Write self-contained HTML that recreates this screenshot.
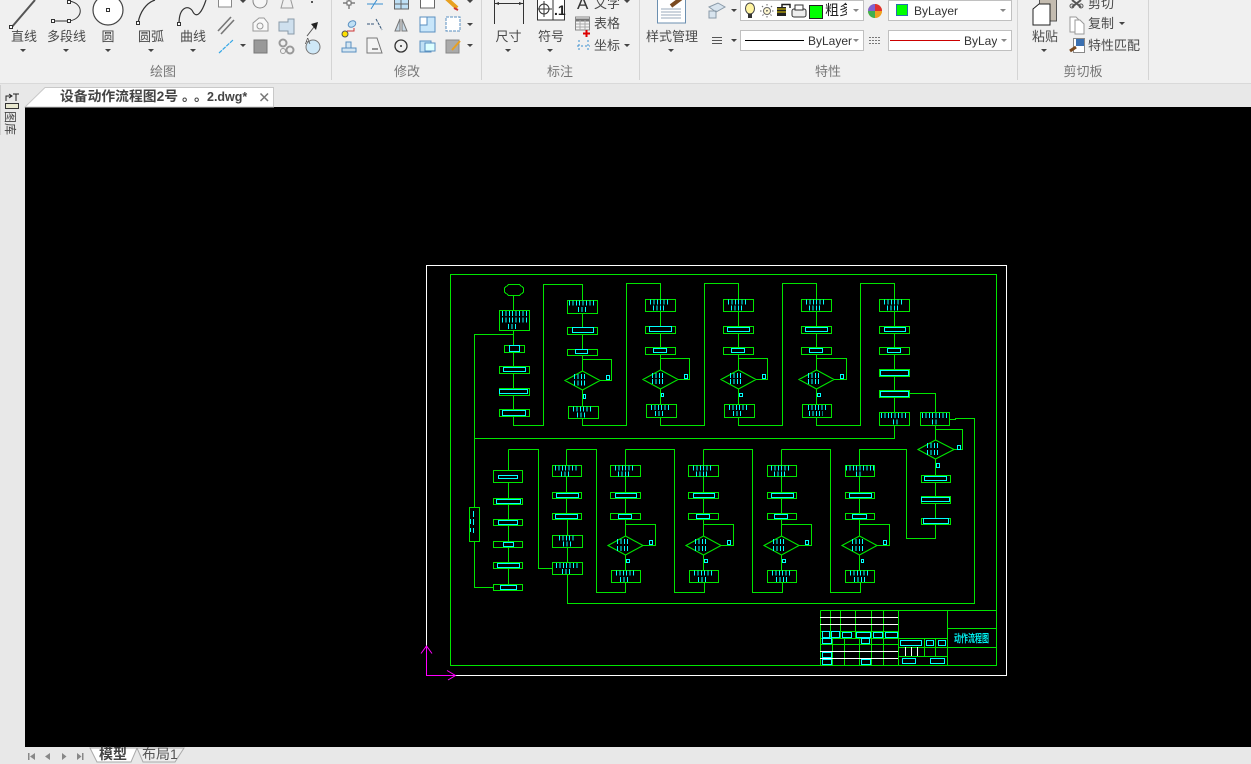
<!DOCTYPE html>
<html lang="zh"><head><meta charset="utf-8"><title>设备动作流程图</title>
<style>
html,body{margin:0;padding:0;width:1251px;height:764px;overflow:hidden;background:#f0f0f0}
svg{display:block;position:absolute;left:0;top:0}
text{font-family:"Liberation Sans","Noto Sans CJK SC",sans-serif;font-size:13px;fill:#4a4a4a}
.s{fill:#777;text-anchor:middle}.m{text-anchor:middle}
</style></head><body>
<svg width="1251" height="764" viewBox="0 0 1251 764" xmlns="http://www.w3.org/2000/svg">
<!-- backgrounds -->
<rect width="1251" height="764" fill="#f0f0f0"/>
<rect x="0" y="84" width="1251" height="23" fill="#e8e8e8"/>
<rect x="0" y="83" width="1251" height="1" fill="#d9d9d9"/>
<rect x="0" y="107" width="25" height="657" fill="#e8e8e8"/>
<rect x="0" y="747" width="1251" height="17" fill="#e8e8e8"/>
<rect x="25" y="107" width="1226" height="640" fill="#000"/>
<!-- separators -->
<path d="M331.5 0V80M481.5 0V80M639.5 0V80M1017.5 0V80M1148.5 0V80" stroke="#d4d4d4" fill="none"/>
<!-- draw big icons -->
<path d="M11 28L35 0" stroke="#555" stroke-width="2"/>
<path d="M52 21H69M69 1C84 3 84 19 69 21" stroke="#333" fill="none"/>
<circle cx="108" cy="10" r="15" fill="#fff" stroke="#444" stroke-width="1.2"/>
<path d="M138 23C140 12 146 3 155 0" stroke="#333" fill="none" stroke-width="1.2"/>
<path d="M179 24C179 5 190 5 193 12C197 19 202 12 206 0" stroke="#333" fill="none" stroke-width="1.2"/>
<g fill="#fff" stroke="#333"><rect x="9.500" y="25.500" width="3" height="3"/><rect x="51.500" y="19.500" width="3" height="3"/><rect x="67.500" y="19.500" width="3" height="3"/><rect x="67.500" y="0.500" width="3" height="3"/><rect x="106.500" y="8.500" width="3" height="3"/><rect x="136.500" y="21.500" width="3" height="3"/><rect x="177.500" y="22.500" width="3" height="3"/></g>
<!-- small draw icons -->
<rect x="218.500" y="-4" width="13" height="11" fill="#fff" stroke="#888"/>
<ellipse cx="260" cy="1" rx="7" ry="7" fill="#f6f6f6" stroke="#888"/>
<path d="M281 8L284 -3H290L293 8Z" fill="none" stroke="#999"/>
<rect x="311" y="1" width="2" height="2" fill="#555"/>
<path d="M218 35L231 21M221 38L234 24" stroke="#777" stroke-width="1.6" transform="translate(0,-4)"/>
<path d="M253 23L259 18H264L268 23V31H253Z" fill="#f8f8f8" stroke="#999"/><circle cx="260" cy="26" r="3" fill="none" stroke="#999"/>
<path d="M279 22H288V19H294V34H288V31H279Z" fill="#cfe0ee" stroke="#8a9aa8"/>
<path d="M307 36L314 27" stroke="#555"/><path d="M311 24L318 22L316 30Z" fill="#222"/>
<path d="M219 53L233 40" stroke="#35a7e6" stroke-width="1.2" stroke-dasharray="4 1"/>
<rect x="254" y="40" width="13" height="13" fill="#999" stroke="#777"/>
<circle cx="283" cy="43" r="3.500" fill="none" stroke="#999" stroke-width="2"/><circle cx="290" cy="50" r="3.500" fill="none" stroke="#999" stroke-width="2"/><circle cx="283" cy="51" r="2.500" fill="none" stroke="#999"/>
<circle cx="313" cy="47" r="7" fill="#cfe8f7" stroke="#777"/><text x="305" y="44" style="font-size:8px">A</text>
<!-- modify icons -->
<g stroke="#666" fill="none">
<path d="M349 -3V9M343 3H355" stroke-width="1.2"/><rect x="347" y="1" width="4" height="4" fill="#fff"/>
<path d="M367 4H383M378 -2L371 9" stroke="#3a8fd0"/>
<rect x="394.500" y="-2" width="14" height="11" fill="#bfe0f5"/><path d="M394 4H408M401 -2V9"/>
<rect x="420.500" y="-2" width="14" height="10" fill="#fff"/>
<path d="M446 -2L457 8" stroke="#e8a020" stroke-width="4"/><path d="M454 8L458 10" stroke="#c33" stroke-width="2"/>
</g>
<circle cx="345" cy="34" r="3" fill="#ffe000" stroke="#555"/><ellipse cx="352" cy="24" rx="4" ry="3" fill="#bfe0f5" stroke="#5a8fc0" transform="rotate(-30 352 24)"/><path d="M347 31H354V28" stroke="#c33" fill="none"/>
<path d="M367 24H375M376 19L382 30" stroke="#357" stroke-dasharray="3 1" fill="none"/>
<path d="M400 19L395 31H400ZM402 19L407 31H402Z" fill="#c8d8e4" stroke="#777"/>
<rect x="420" y="17" width="15" height="15" fill="#c8e6fa" stroke="#5a8fc0"/><rect x="420" y="17" width="7" height="8" fill="#fff" stroke="#5a8fc0"/>
<rect x="446" y="17" width="14" height="14" fill="#fff" stroke="#5a8fc0" stroke-dasharray="3 1"/>
<path d="M342 48H356V52H342ZM346 48V42H351V48" fill="#d4e6f2" stroke="#5a8fc0"/>
<path d="M367 38H377L382 53H367Z" fill="#f4f4f4" stroke="#777"/><path d="M372 49H378" stroke="#333"/>
<circle cx="401" cy="46" r="6" fill="none" stroke="#333" stroke-width="1.3"/><circle cx="401" cy="46" r="1" fill="#333"/>
<path d="M420 41H431V52H420Z" fill="#bfe0f5" stroke="#5a8fc0"/><path d="M425 43H435V51H425Z" fill="#dff" stroke="#5a8fc0"/>
<rect x="446" y="40" width="13" height="13" fill="#aaa" stroke="#888"/><path d="M452 50L460 41" stroke="#e8a020" stroke-width="2"/>
<!-- dims -->
<path d="M494.500 0V24M523.500 0V24M494 3.500H523" stroke="#333" fill="none"/>
<path d="M495 3.500L499 2V5ZM523 3.500L519 2V5Z" fill="#333"/>
<rect x="537.500" y="-3" width="27" height="23" fill="#fff" stroke="#333"/>
<path d="M553 -3V20" stroke="#333"/><circle cx="544" cy="9" r="5" fill="none" stroke="#333"/><path d="M544 1V17M537 9H552" stroke="#333"/>
<text x="554" y="15" style="font-size:14px;font-weight:bold;fill:#222">.1</text>
<text x="577" y="9" style="font-size:17px;fill:#333">A</text>
<rect x="575.500" y="17" width="14" height="13" fill="#f4f4f4" stroke="#888"/><path d="M576 20H589" stroke="#777" stroke-width="3"/><path d="M576 24H589M576 27H589M580 20V30M585 20V30" stroke="#aaa"/>
<path d="M583 33.500H590M586.500 30V37" stroke="#d00" stroke-width="2"/>
<path d="M579 40V52M588 40V52M577 46H590" stroke="#3a8fd0" stroke-dasharray="2 2" fill="none"/>
<!-- style doc -->
<rect x="657.500" y="-3" width="28" height="26" fill="#fff" stroke="#6b8fb0"/>
<path d="M661 9H681M661 12H681M661 15H681M661 18H681" stroke="#9ab" />
<path d="M671 6L683 -3" stroke="#7a4a20" stroke-width="4"/>
<!-- property icons -->
<path d="M709 7L718 3L725 7L716 12ZM709 18V11H716V18Z" fill="#d8e4ee" stroke="#8a9aa8"/>
<rect x="740.500" y="0.500" width="123" height="20" fill="#fff" stroke="#c0c0c0"/>
<ellipse cx="750" cy="8.500" rx="4.500" ry="5.500" fill="#fff4a0" stroke="#444"/><rect x="748" y="14" width="4" height="4" fill="#333"/>
<circle cx="767" cy="11" r="3.500" fill="#fff8d0" stroke="#666"/><path d="M760 11H774M767 4V18M762 6L772 16M772 6L762 16" stroke="#666" stroke-dasharray="1.500 4.500" fill="none"/>
<rect x="777" y="7" width="9" height="9" fill="#222"/><path d="M777 9H786M777 12H786" stroke="#e8d000"/><path d="M782 7V4.500H790V8" stroke="#222" fill="none" stroke-width="1.500"/>
<rect x="792" y="9" width="14" height="8" rx="2" fill="#eee" stroke="#333"/><rect x="795" y="5" width="8" height="5" fill="#fff" stroke="#333"/>
<rect x="809.500" y="5.500" width="13" height="13" fill="#0f0" stroke="#222"/>
<text x="825" y="15" style="font-size:14px;fill:#222">粗多</text>
<rect x="847" y="1" width="16" height="19" fill="#fff"/>
<circle cx="875" cy="11" r="7" fill="#e6c020"/><path d="M875 11V4A7 7 0 0 1 882 11Z" fill="#e03030"/><path d="M875 11L882 11A7 7 0 0 1 875 18Z" fill="#f0a020"/><path d="M875 11V18A7 7 0 0 1 868 11Z" fill="#40b050"/><path d="M875 11H868A7 7 0 0 1 875 4Z" fill="#8060d0"/>
<rect x="888.500" y="0.500" width="123" height="20" fill="#fff" stroke="#c0c0c0"/>
<rect x="896.500" y="4.500" width="11" height="11" fill="#0f0" stroke="#2a6fb0"/>
<text x="914" y="15" style="font-size:12px;fill:#333">ByLayer</text>
<path d="M712 37.500H722M712 40.500H722M712 43.500H722" stroke="#555"/>
<rect x="740.500" y="30.500" width="123" height="20" fill="#fff" stroke="#c0c0c0"/>
<path d="M745 40.500H804" stroke="#000"/>
<text x="808" y="45" style="font-size:12px;fill:#333">ByLayer</text>
<path d="M869 37.500H881M869 40.500H881M869 43.500H881" stroke="#777" stroke-dasharray="2 1"/>
<rect x="888.500" y="30.500" width="123" height="20" fill="#fff" stroke="#c0c0c0"/>
<path d="M890 40.500H960" stroke="#c00"/>
<text x="964" y="45" style="font-size:12px;fill:#333">ByLayer</text>
<rect x="997" y="31" width="14" height="19" fill="#fff"/>
<!-- paste -->
<rect x="1039.500" y="-3" width="17" height="24" fill="#c4bcb0" stroke="#555"/>
<path d="M1033 9L1039 4H1050V25H1033Z" fill="#fff" stroke="#222"/>
<path d="M1072 0L1081 7M1081 0L1072 7" stroke="#555" stroke-width="2"/><circle cx="1072" cy="6" r="2" fill="none" stroke="#555"/><circle cx="1081" cy="6" r="2" fill="none" stroke="#555"/>
<path d="M1070 17H1076L1080 21V32H1070Z" fill="#fff" stroke="#999"/><path d="M1075 20H1080L1084 24V34H1075Z" fill="#fff" stroke="#999"/>
<rect x="1073.500" y="38.500" width="11" height="14" fill="#fff" stroke="#888"/><rect x="1076" y="39" width="8" height="7" fill="#3a6fb0"/>
<path d="M1070 51L1076 47" stroke="#7a4a20" stroke-width="3"/>
<!-- carets -->
<path fill="#444" d="M20 49h6l-3 3zM63 49h6l-3 3zM105 49h6l-3 3zM148 49h6l-3 3zM190 49h6l-3 3zM240 0h6l-3 3zM240 44h6l-3 3zM467 0h6l-3 3zM467 23h6l-3 3zM467 44h6l-3 3zM505 49h6l-3 3zM547 49h6l-3 3zM624 0h6l-3 3zM624 44h6l-3 3zM668 49h6l-3 3zM731 9h6l-3 3zM731 39h6l-3 3zM1041 49h6l-3 3zM1119 22h6l-3 3z"/>
<path fill="#888" d="M853 9h6l-3 3zM1000 9h6l-3 3zM853 39h6l-3 3zM1001 39h6l-3 3z"/>
<!-- ribbon text -->
<g>
<text class="m" x="24" y="41">直线</text><text class="m" x="66.500" y="41">多段线</text><text class="m" x="108" y="41">圆</text><text class="m" x="151" y="41">圆弧</text><text class="m" x="193" y="41">曲线</text>
<text class="s" x="163" y="76">绘图</text><text class="s" x="407" y="76">修改</text><text class="s" x="560" y="76">标注</text><text class="s" x="828" y="76">特性</text><text class="s" x="1083" y="76">剪切板</text>
<text class="m" x="508.500" y="41">尺寸</text><text class="m" x="551" y="41">符号</text>
<text x="594" y="8">文字</text><text x="594" y="28">表格</text><text x="594" y="50">坐标</text>
<text class="m" x="672" y="41">样式管理</text><text class="m" x="1045" y="41">粘贴</text>
<text x="1088" y="8">剪切</text><text x="1088" y="28">复制</text><text x="1088" y="50">特性匹配</text>
</g>
<!-- doc tab -->
<path d="M25 107L45 87.500H273.500V107Z" fill="#fff" stroke="#c8c8c8"/>
<text x="60" y="101" style="font-size:13.800px;font-weight:bold;fill:#444">设备动作流程图2号</text>
<text x="182" y="101" style="font-size:13.800px;font-weight:bold;fill:#444">。</text><text x="194" y="101" style="font-size:13.800px;font-weight:bold;fill:#444">。</text>
<text x="207" y="101" style="font-size:12.500px;font-weight:bold;fill:#444">2.dwg*</text>
<path d="M260.500 93.500L268 101M268 93.500L260.500 101" stroke="#777" stroke-width="1.500"/>
<!-- left strip -->
<rect x="0" y="85" width="1" height="50" fill="#d0d0d0"/>
<rect x="5.500" y="103.500" width="13" height="5" fill="#e8e8d0" stroke="#333"/>
<path d="M6 101V96H11M9 94L12 96L9 98M13 94H19M16 94V101" stroke="#222" fill="none"/>
<text transform="translate(6,111) rotate(90)" style="font-size:12px;fill:#444">图库</text>
<!-- bottom tabs -->
<path fill="#888" d="M28 753h1.500v7h-1.500zM30 756.500l5-3.500v7zM45 756.500l5-3.500v7zM62 753l4.500 3.500-4.500 3.500zM77 753l4.500 3.500-4.500 3.500zM82 753h1.500v7h-1.500z"/>
<path d="M90 748H137L131 762H97Z" fill="#fff" stroke="#aaa"/>
<path d="M137 748H184L175 762H143Z" fill="#eee" stroke="#aaa"/>
<text x="99" y="759" style="font-size:14px;font-weight:bold;fill:#444">模型</text>
<text x="142" y="759" style="font-size:14px;fill:#555">布局1</text>
<!-- CAD drawing -->
<g shape-rendering="crispEdges" fill="none">
<path stroke="#fff" d="M426.500 265.500H1006.500V675.500H426.500Z"/>
<g stroke="#00e600">
<path d="M450.500 274.500H996.500V665.500H450.500Z"/>
<!-- nodes -->
<path d="M508.500 284.500H519.500L523.500 288V292L519.500 295.500H508.500L504.500 292V288Z"/>
<path d="M499.500 310.500H529.500V330.500H499.500ZM504.500 345.500H524.500V352.500H504.500ZM499.500 366.500H529.500V373.500H499.500ZM499.500 388.500H529.500V395.500H499.500ZM499.500 409.500H529.500V416.500H499.500Z"/>
<path d="M567.500 300.500H597.500V313.500H567.500ZM567.500 327.500H597.500V334.500H567.500ZM567.500 349.500H597.500V355.500H567.500ZM568.500 406.500H598.500V418.500H568.500Z"/>
<path d="M645.500 299.500H675.500V311.500H645.500ZM645.500 326.500H675.500V333.500H645.500ZM645.500 347.500H675.500V354.500H645.500ZM646.500 404.500H676.500V417.500H646.500Z"/>
<path d="M723.500 299.500H753.500V311.500H723.500ZM723.500 326.500H753.500V333.500H723.500ZM723.500 347.500H753.500V354.500H723.500ZM724.500 404.500H754.500V417.500H724.500Z"/>
<path d="M801.500 299.500H831.500V311.500H801.500ZM801.500 326.500H831.500V333.500H801.500ZM801.500 347.500H831.500V354.500H801.500ZM802.500 404.500H831.500V417.500H802.500Z"/>
<path d="M879.500 299.500H909.500V311.500H879.500ZM879.500 326.500H909.500V333.500H879.500ZM879.500 347.500H909.500V354.500H879.500ZM879.500 369.500H909.500V376.500H879.500ZM879.500 390.500H909.500V397.500H879.500ZM879.500 412.500H909.500V425.500H879.500ZM920.500 412.500H949.500V425.500H920.500Z"/>
<path d="M921.500 475.500H950.500V482.500H921.500ZM921.500 496.500H950.500V503.500H921.500ZM921.500 518.500H950.500V524.500H921.500Z"/>
<path d="M469.500 507.500H479.500V541.500H469.500Z"/>
<path d="M493.500 470.500H522.500V482.500H493.500ZM493.500 498.500H522.500V504.500H493.500ZM493.500 519.500H522.500V525.500H493.500ZM493.500 541.500H522.500V547.500H493.500ZM493.500 562.500H522.500V568.500H493.500ZM493.500 584.500H522.500V590.500H493.500Z"/>
<path d="M552.500 465.500H581.500V476.500H552.500ZM552.500 492.500H581.500V498.500H552.500ZM552.500 513.500H581.500V519.500H552.500ZM552.500 535.500H582.500V547.500H552.500ZM552.500 562.500H582.500V574.500H552.500Z"/>
<path d="M610.500 465.500H640.500V476.500H610.500ZM610.500 492.500H640.500V498.500H610.500ZM610.500 513.500H640.500V519.500H610.500ZM611.500 570.500H640.500V582.500H611.500Z"/>
<path d="M688.500 465.500H718.500V476.500H688.500ZM688.500 492.500H718.500V498.500H688.500ZM688.500 513.500H718.500V519.500H688.500ZM689.500 570.500H718.500V582.500H689.500Z"/>
<path d="M767.500 465.500H796.500V476.500H767.500ZM767.500 492.500H796.500V498.500H767.500ZM767.500 513.500H796.500V519.500H767.500ZM767.500 570.500H796.500V582.500H767.500Z"/>
<path d="M845.500 465.500H874.500V476.500H845.500ZM845.500 492.500H874.500V498.500H845.500ZM845.500 513.500H874.500V519.500H845.500ZM845.500 570.500H874.500V582.500H845.500Z"/>
<!-- connectors -->
<path d="M513.500 295V310M513.500 330V345M513.500 352V366M513.500 373V388M513.500 395V409M513.500 416V425.500H543.500V284.500H582.500V300M513.500 330V334.500H474.500V507M474.500 541V587.500H493"/>
<path d="M582.500 313V327M582.500 334V349M582.500 355V371M582.500 359.500H611.500V380.500H600M582.500 390V406M582.500 418V425.500H626.500V283.500H660.500V299"/>
<path d="M660.500 311V326M660.500 333V347M660.500 354V370M660.500 358.500H689.500V379.500H678M660.500 389V404M660.500 417V425.500H704.500V283.500H738.500V299"/>
<path d="M738.500 311V326M738.500 333V347M738.500 354V370M738.500 358.500H767.500V379.500H756M738.500 389V404M738.500 417V425.500H782.500V283.500H816.500V299"/>
<path d="M816.500 311V326M816.500 333V347M816.500 354V370M816.500 358.500H846.500V379.500H834M816.500 389V404M816.500 417V425.500H860.500V283.500H894.500V299"/>
<path d="M894.500 311V326M894.500 333V347M894.500 354V369M894.500 376V390M894.500 397V412M894.500 425V438.500H474.500M909 393.500H935.500V412"/>
<path d="M949 419.500H955.500V418.500H974.500V603.500H567.500V574M935.500 425V440M935.500 429.500H962.500V449.500H954M935.500 459V475M935.500 482V496M935.500 503V518M935.500 524V538.500H906.500V449.500H859.500V465"/>
<path d="M508.500 449.500V470M508.500 482V498M508.500 504V519M508.500 525V541M508.500 547V562M508.500 568V584M508.500 449.500H538.500V568.500H552"/>
<path d="M566.500 449.500V465M566.500 449.500H596.500V592.500H625.500V582M566.500 476V492M566.500 498V513M567.500 519V535M567.500 547V562"/>
<path d="M625.500 449.500V465M625.500 449.500H674.500V592.500H704.500V582M625.500 476V492M625.500 498V513M625.500 519V536M625.500 524.500H655.500V545.500H643M625.500 555V570"/>
<path d="M703.500 449.500V465M703.500 449.500H752.500V592.500H782.500V582M703.500 476V492M703.500 498V513M703.500 519V536M703.500 524.500H733.500V545.500H721M703.500 555V570"/>
<path d="M781.500 449.500V465M781.500 449.500H830.500V592.500H860.500V582M781.500 476V492M781.500 498V513M781.500 519V536M781.500 524.500H811.500V545.500H799M781.500 555V570"/>
<path d="M859.500 476V492M859.500 498V513M859.500 519V536M859.500 524.500H889.500V545.500H877M859.500 555V570"/>
</g>
<!-- diamonds -->
<g stroke="#00e600" shape-rendering="auto" stroke-width="1.100">
<path d="M565 380.500L582.500 371L600 380.500L582.500 390ZM643 379.500L660.500 370L678 379.500L660.500 389ZM721 379.500L738.500 370L756 379.500L738.500 389ZM799 379.500L816.500 370L834 379.500L816.500 389ZM918 449.500L935.500 440L954 449.500L935.500 459ZM608 545.500L625.500 536L643 545.500L625.500 555ZM686 545.500L703.500 536L721 545.500L703.500 555ZM764 545.500L781.500 536L799 545.500L781.500 555ZM842 545.500L859.500 536L877 545.500L859.500 555Z"/>
</g>
<!-- cyan inner rects -->
<path stroke="#00ffff" d="M509.500 345.500H519.500V351.500H509.500ZM503.500 367.500H525.500V371.500H503.500ZM499.500 389.500H527.500V393.500H499.500ZM502.500 410.500H525.500V415.500H502.500Z
M572.500 327.500H593.500V332.500H572.500ZM575.500 349.500H587.500V353.500H575.500ZM606.500 375.500H609.500V379.500H606.500ZM583.500 394.500H585.500V398.500H583.500Z
M649.500 326.500H671.500V331.500H649.500ZM653.500 348.500H666.500V352.500H653.500ZM684.500 374.500H687.500V378.500H684.500ZM661.500 393.500H663.500V396.500H661.500Z
M727.500 327.500H749.500V331.500H727.500ZM731.500 348.500H744.500V352.500H731.500ZM762.500 374.500H765.500V378.500H762.500ZM739.500 393.500H742.500V396.500H739.500Z
M805.500 327.500H827.500V331.500H805.500ZM809.500 348.500H822.500V352.500H809.500ZM840.500 374.500H843.500V378.500H840.500ZM817.500 393.500H820.500V396.500H817.500Z
M884.500 327.500H905.500V331.500H884.500ZM887.500 348.500H900.500V352.500H887.500ZM880.500 370.500H908.500V375.500H880.500ZM880.500 391.500H908.500V396.500H880.500ZM957.500 445.500H960.500V449.500H957.500ZM936.500 463.500H939.500V467.500H936.500Z
M924.500 476.500H946.500V480.500H924.500ZM921.500 497.500H949.500V501.500H921.500ZM923.500 518.500H948.500V523.500H923.500Z
M498.500 475.500H517.500V478.500H498.500ZM496.500 499.500H520.500V503.500H496.500ZM498.500 520.500H517.500V524.500H498.500ZM503.500 542.500H513.500V546.500H503.500ZM497.500 563.500H519.500V567.500H497.500ZM500.500 585.500H516.500V589.500H500.500Z
M556.500 493.500H578.500V497.500H556.500ZM555.500 514.500H577.500V518.500H555.500Z
M615.500 493.500H636.500V497.500H615.500ZM618.500 514.500H631.500V518.500H618.500ZM649.500 540.500H652.500V544.500H649.500ZM626.500 559.500H629.500V562.500H626.500Z
M693.500 493.500H714.500V497.500H693.500ZM696.500 514.500H709.500V518.500H696.500ZM727.500 540.500H730.500V544.500H727.500ZM704.500 559.500H707.500V562.500H704.500Z
M771.500 493.500H793.500V497.500H771.500ZM774.500 514.500H787.500V518.500H774.500ZM805.500 540.500H808.500V544.500H805.500ZM782.500 559.500H785.500V562.500H782.500Z
M849.500 493.500H871.500V497.500H849.500ZM852.500 514.500H866.500V518.500H852.500ZM883.500 540.500H886.500V544.500H883.500ZM861.500 559.500H863.500V562.500H861.500Z"/>
<!-- cyan ticks -->
<path stroke="#00ffff" stroke-width="5" stroke-dasharray="1 2.4" d="M502 313.500H528M502 320H528M508 326.500H518M569 303H596M578 309.500H586M574 376.500H586M574 383H587M573 409H591M577 415H587
M650 302H668M653 308H666M652 375.500H665M652 381.500H665M651 407.500H669M655 413.500H665
M728 302H747M731 308H744M730 375.500H743M730 381.500H743M729 407.500H747M733 413.500H743
M806 302H825M809 308H822M808 375.500H821M808 381.500H821M808 407.500H826M809 413.500H823
M884 302H903M887 308H900M881 415.500H908M893 422H898M922 415.500H949M932 422H937M927 445.500H938M927 452.500H939
M555 468H577M561 474H571M559 538H575M563 544H571M556 565.500H578M562 571.500H571
M615 468H634M618 474H631M617 541.500H630M617 548.500H630M616 573H634M620 579.500H630
M693 468H712M696 474H709M695 541.500H708M695 548.500H708M694 573H712M698 579.500H708
M771 468H789M774 474H787M773 541.500H786M773 548.500H786M772 573H791M776 579.500H787
M846 468H874M856 474H863M852 541.500H865M852 548.500H865M850 573H869M854 579.500H865"/>
<path stroke="#00ffff" d="M473.500 511V517M473.500 519V525M473.500 528V533M470.500 519V524M470.500 528V532"/>
<!-- title block -->
<path stroke="#00e600" d="M820.500 610.500H996.500M820.500 610.500V665M898.500 610.500V665M947.500 610.500V665M947.500 628.500H996.500M947.500 647.500H996.500
M820.500 631.500H898.500M820.500 638.500H947.500M820.500 644.500H898.500M898.500 647.500H947.500M898.500 656.500H947.500
M830.500 610V638M840.500 610V638M855.500 610V638M871.500 610V665M883.500 610V665
M832.500 638V665M844.500 638V665M859.500 638V665M924.500 638V656M935.500 638V656"/>
<path stroke="#fff" d="M820 617.500H898M820 624.500H898M820 651.500H898M820 658.500H898M905.500 647V656M911.500 647V656M917.500 647V656"/>
<path stroke="#00ffff" d="M822.500 631.500H829.500V637.500H822.500ZM831.500 631.500H839.500V637.500H831.500ZM842.500 632.500H851.500V637.500H842.500ZM856.500 632.500H870.500V637.500H856.500ZM873.500 632.500H882.500V637.500H873.500ZM885.500 632.500H897.500V637.500H885.500Z
M822.500 638.500H831.500V643.500H822.500ZM861.500 638.500H869.500V643.500H861.500ZM822.500 652.500H831.500V657.500H822.500ZM822.500 659.500H831.500V664.500H822.500ZM861.500 659.500H870.500V664.500H861.500Z
M900.500 640.500H921.500V645.500H900.500ZM926.500 640.500H933.500V645.500H926.500ZM938.500 640.500H945.500V645.500H938.500ZM902.500 658.500H915.500V663.500H902.500ZM930.500 658.500H944.500V663.500H930.500Z"/>
</g>
<text x="954" y="642" textLength="35" lengthAdjust="spacingAndGlyphs" style="font-size:11px;font-weight:bold;fill:#00f0f0">动作流程图</text>
<!-- UCS -->
<path stroke="#ff00ff" fill="none" shape-rendering="crispEdges" d="M426.500 646V675.500H455"/>
<path stroke="#ff00ff" fill="none" d="M421 653.500L426.500 646L432 653.500M447 670.500L455.500 675.500L448 680"/>
</svg>
</body></html>
